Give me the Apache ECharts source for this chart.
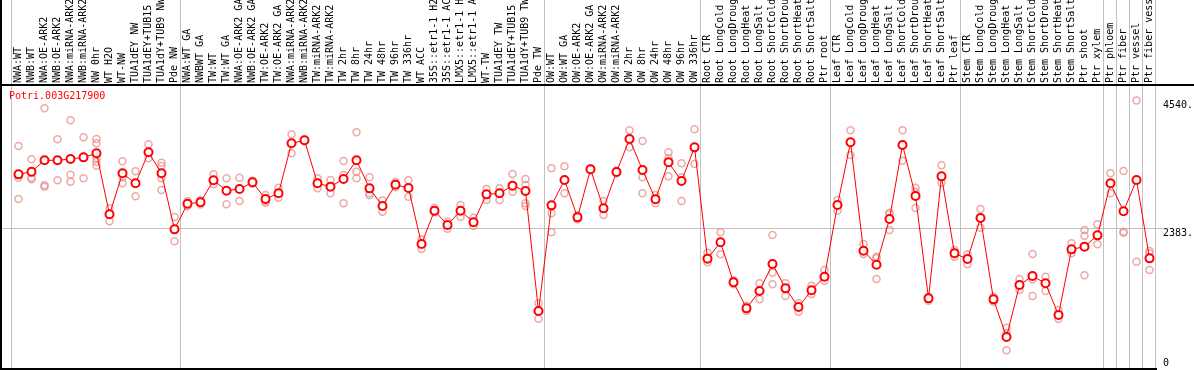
<!DOCTYPE html>
<html>
<head>
<meta charset="utf-8">
<script src="https://cdn.jsdelivr.net/npm/echarts@6/dist/echarts.min.js"></script>
<style>
html,body{margin:0;padding:0;background:#fff;}
#chart{width:1194px;height:370px;}
</style>
</head>
<body>
<div id="chart"></div>
<script>
const geneName = 'Potri.003G217900';

const groupNW = ['NWA:WT','NWB:WT','NWA:OE-ARK2','NWB:OE-ARK2','NWA:miRNA-ARK2','NWB:miRNA-ARK2','NW 0hr','WT H2O','WT-NW','TUA1dEY NW','TUA1dEY+TUB15 NW','TUA1dY+TUB9 NW','Pde NW'];
const groupTW = ['NWA:WT GA','NWBWT GA','TW:WT','TW:WT GA','NWA:OE-ARK2 GA','NWB:OE-ARK2 GA','TW:OE-ARK2','TW:OE-ARK2 GA','NWA:miRNA-ARK2 GA','NWB:miRNA-ARK2 GA','TW:miRNA-ARK2','TW:miRNA-ARK2 GA','TW 2hr','TW 8hr','TW 24hr','TW 48hr','TW 96hr','TW 336hr','WT ACC','35S::etr1-1 H2O','35S::etr1-1 ACC','LMX5::etr1-1 H2O','LMX5::etr1-1 ACC','WT-TW','TUA1dEY TW','TUA1dEY+TUB15 TW','TUA1dY+TUB9 TW','Pde TW'];
const groupOW = ['OW:WT','OW:WT GA','OW:OE-ARK2','OW:OE-ARK2 GA','OW:miRNA-ARK2','OW:miRNA-ARK2 GA','OW 2hr','OW 8hr','OW 24hr','OW 48hr','OW 96hr','OW 336hr'];
const groupRoot = ['Root CTR','Root LongCold','Root LongDrought','Root LongHeat','Root LongSalt','Root ShortCold','Root ShortDrought','Root ShortHeat','Root ShortSalt','Ptr root'];
const groupLeaf = ['Leaf CTR','Leaf LongCold','Leaf LongDrought','Leaf LongHeat','Leaf LongSalt','Leaf ShortCold','Leaf ShortDrought','Leaf ShortHeat','Leaf ShortSalt','Ptr leaf'];
const groupStem = ['Stem CTR','Stem LongCold','Stem LongDrought','Stem LongHeat','Stem LongSalt','Stem ShortCold','Stem ShortDrought','Stem ShortHeat','Stem ShortSalt','Ptr shoot','Ptr xylem'];
const groupPhloem = ['Ptr phloem'];
const groupFiber = ['Ptr fiber'];
const groupVessel = ['Ptr vessel'];
const groupFiberVessel = ['Ptr fiber vessel'];

const groups = [groupNW, groupTW, groupOW, groupRoot, groupLeaf, groupStem, groupPhloem, groupFiber, groupVessel, groupFiberVessel];

const meanValues = [
  3290,3335,3527,3527,3549,3577,3645,2614,3307,3138,3662,3307,2360,
  2794,2817,3189,3014,3042,3155,2873,2969,3814,3865,3138,3082,3211,3527,3053,2755,3115,3059,2113,2676,2434,2676,2479,2952,2969,3099,3009,980,
  2766,3194,2563,3375,2715,3330,3887,3363,2868,3493,3177,3746,
  1865,2141,1465,1025,1318,1775,1363,1048,1330,1560,
  2772,3831,2000,1763,2535,3786,2924,1194,3256,1955,
  1859,2552,1177,541,1420,1572,1448,913,2022,2068,2259,
  3138,2665,3194,1870
];

const replicateValues = [
  [3769,3234,2873],[3544,3234,3206],[4406,3104,3082],[3882,3189],[4203,3284,3166],[3915,3589,3222],[3887,3814,3560,3504,3436],[2715,2496],[3510,3239,3138],[3341,2918],[3797,3560],[3487,3431,3222,3025],[2569,2158],
  [2839,2750],[2856,2780],[3290,3121],[3222,2783],[3234,2839],[3180,3130],[2940,2839,2811],[3065,2896],[3966,3645],[3880,3850],[3222,3053],[3194,2969],[3516,3279,2800],[4000,3335,3222],[3239,2969,2935],[2850,2659],[3160,3070],[3189,2913],[2192,2028],[2727,2650],[2490,2372],[2772,2575],[2558,2417],[3042,2856],[3053,2856],[3296,2997],[3211,3110,2800,2755],[1110,851],
  [3392,2631,2310],[3425,2969],[2600,2530],[3390,3360],[2839,2603],[3350,3310],[4034,3746],[3853,3239,2969],[2941,2800],[3662,3560,3256],[3476,3239,2839],[4051,3465],
  [1966,1803],[2310,1938],[1500,1431],[1070,980],[1448,1177],[2265,1628,1431],[1448,1234],[1110,969],[1408,1268],[1673,1493],
  [2856,2676],[4034,3617],[2113,1944],[1899,1870,1521],[2640,2620,2349],[4034,3521],[3065,2990,2721],[1222,1155],[3442,3149],[2011,1899],
  [1938,1769],[2704,2389],[1222,1138],[699,610,315],[1515,1335],[1944,1515,1234],[1560,1318],[997,845],[2124,1955],[2349,2254,1583],[2445,2107],
  [3307,2969],[3346,2321,2304],[4540,1814],[1994,1955,1673]
];

const yTickValues = [0, 2383, 4540];
const yGridValues = [2383];

const categories = [].concat(...groups);
const groupBounds = [0];
groups.forEach(g => groupBounds.push(groupBounds[groupBounds.length - 1] + g.length));

const replicatePoints = [];
replicateValues.forEach((arr, i) => arr.forEach(v => replicatePoints.push([i, v])));

const FONT = 'DejaVu Sans Mono';
const chart = echarts.init(document.getElementById('chart'), null, {renderer: 'canvas'});
const W = 1194, H = 370;

chart.setOption({
  animation: false,
  backgroundColor: '#fff',
  title: {
    text: geneName, left: 9, top: 91, padding: 0,
    textStyle: {color: '#ff0000', fontSize: 10, fontFamily: FONT, fontWeight: 'normal'}
  },
  grid: {left: 12, right: 38, top: 85, bottom: 1, containLabel: false, outerBoundsMode: 'none'},
  xAxis: [
    {
      type: 'category', data: categories, position: 'top', boundaryGap: true,
      axisLine: {show: false}, axisTick: {show: false}, splitLine: {show: false},
      axisLabel: {interval: 0, rotate: 90, margin: 2, fontSize: 10, fontFamily: FONT, color: '#000', hideOverlap: false}
    },
    {type: 'value', min: 0, max: categories.length, show: false}
  ],
  yAxis: {
    type: 'value', position: 'right', min: 0, max: 4800,
    axisLine: {show: false}, axisTick: {show: false}, splitLine: {show: false},
    axisLabel: {
      customValues: yTickValues, margin: 7, fontSize: 10, fontFamily: FONT, color: '#000',
      lineHeight: 11,
      formatter: v => v === 0 ? '0\n' : '\n' + v + '.'
    }
  },
  series: [
    {
      type: 'custom', xAxisIndex: 1, yAxisIndex: 0, clip: false, silent: true, z: 1,
      data: groupBounds.map(b => [b, 0]),
      renderItem: (params, api) => {
        const p = api.coord([api.value(0), 0]);
        const x = Math.round(p[0]) - 0.5;
        return {type: 'line', shape: {x1: x, y1: 0, x2: x, y2: p[1]}, style: {stroke: '#c0c0c0', lineWidth: 1}};
      }
    },
    {
      type: 'custom', xAxisIndex: 1, yAxisIndex: 0, clip: false, silent: true, z: 1,
      data: yGridValues.map(v => [0, v]),
      renderItem: (params, api) => {
        const p = api.coord([0, api.value(1)]);
        const pr = api.coord([categories.length, api.value(1)]);
        const y = Math.round(p[1]) + 0.5;
        return {type: 'line', shape: {x1: 2, y1: y, x2: pr[0] + 7, y2: y}, style: {stroke: '#c0c0c0', lineWidth: 1}};
      }
    },
    {
      type: 'scatter', xAxisIndex: 0, z: 2,
      data: replicatePoints,
      symbol: 'circle', symbolSize: 7,
      itemStyle: {color: 'rgba(0,0,0,0)', borderColor: '#e99292', borderWidth: 1.5}
    },
    {
      type: 'line', xAxisIndex: 0, z: 3,
      data: meanValues,
      symbol: 'emptyCircle', symbolSize: 8, showAllSymbol: true,
      lineStyle: {color: '#ff0000', width: 1},
      itemStyle: {color: '#ff0000', borderColor: '#ff0000', borderWidth: 1.5}
    }
  ],
  graphic: [
    {type: 'line', silent: true, z: 10, shape: {x1: 0, y1: 85, x2: W, y2: 85}, style: {stroke: '#000', lineWidth: 2}},
    {type: 'line', silent: true, z: 10, shape: {x1: 1, y1: 0, x2: 1, y2: H}, style: {stroke: '#000', lineWidth: 2}},
    {type: 'line', silent: true, z: 10, shape: {x1: 0, y1: 369, x2: 1157, y2: 369}, style: {stroke: '#000', lineWidth: 2}}
  ]
});
</script>
</body>
</html>
